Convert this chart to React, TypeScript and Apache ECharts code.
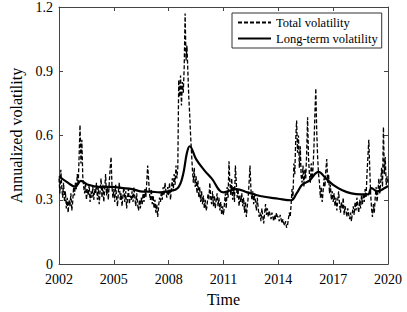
import React, { useEffect, useRef } from "react";
import * as echarts from "echarts";

const BASE_YEAR = 2002;
const END_YEAR = 2020;
const TOTAL_START = 2002;
const TOTAL_STEP = 0.05;

const total2002 = [0.40, 0.33, 0.44, 0.36, 0.31, 0.38, 0.29, 0.34, 0.26, 0.31, 0.24, 0.30, 0.27, 0.33, 0.25, 0.29, 0.36, 0.32, 0.38, 0.35];
const total2003 = [0.42, 0.37, 0.50, 0.65, 0.47, 0.58, 0.41, 0.36, 0.33, 0.38, 0.30, 0.35, 0.32, 0.37, 0.29, 0.34, 0.31, 0.36, 0.30, 0.35];
const total2004 = [0.33, 0.38, 0.30, 0.36, 0.28, 0.34, 0.40, 0.31, 0.37, 0.29, 0.35, 0.42, 0.32, 0.36, 0.30, 0.38, 0.45, 0.50, 0.36, 0.31];
const total2005 = [0.35, 0.29, 0.37, 0.31, 0.27, 0.34, 0.38, 0.30, 0.33, 0.27, 0.32, 0.36, 0.29, 0.34, 0.26, 0.31, 0.35, 0.28, 0.32, 0.30];
const total2006 = [0.34, 0.29, 0.36, 0.31, 0.27, 0.33, 0.28, 0.25, 0.30, 0.26, 0.31, 0.28, 0.33, 0.29, 0.35, 0.31, 0.38, 0.46, 0.40, 0.33];
const total2007 = [0.30, 0.35, 0.28, 0.32, 0.26, 0.30, 0.24, 0.28, 0.22, 0.27, 0.31, 0.29, 0.34, 0.30, 0.36, 0.32, 0.38, 0.34, 0.31, 0.36];
const total2008 = [0.32, 0.38, 0.30, 0.35, 0.40, 0.34, 0.42, 0.37, 0.46, 0.40, 0.45, 0.86, 0.78, 0.88, 0.74, 0.85, 0.80, 0.92, 1.17, 0.95];
const total2009 = [1.02, 0.90, 0.78, 0.70, 0.60, 0.52, 0.44, 0.38, 0.45, 0.36, 0.41, 0.33, 0.39, 0.31, 0.36, 0.29, 0.34, 0.28, 0.32, 0.26];
const total2010 = [0.30, 0.25, 0.27, 0.33, 0.30, 0.38, 0.31, 0.28, 0.34, 0.27, 0.32, 0.26, 0.30, 0.33, 0.27, 0.31, 0.25, 0.29, 0.23, 0.27];
const total2011 = [0.23, 0.28, 0.33, 0.26, 0.36, 0.31, 0.48, 0.38, 0.32, 0.40, 0.30, 0.36, 0.29, 0.46, 0.38, 0.31, 0.35, 0.27, 0.32, 0.29];
const total2012 = [0.33, 0.27, 0.31, 0.24, 0.29, 0.22, 0.27, 0.31, 0.38, 0.46, 0.35, 0.30, 0.34, 0.28, 0.33, 0.29, 0.25, 0.31, 0.26, 0.22];
const total2013 = [0.24, 0.20, 0.26, 0.22, 0.19, 0.24, 0.28, 0.23, 0.26, 0.22, 0.25, 0.23, 0.21, 0.24, 0.22, 0.20, 0.23, 0.21, 0.24, 0.22];
const total2014 = [0.22, 0.20, 0.23, 0.21, 0.19, 0.21, 0.19, 0.18, 0.20, 0.17, 0.18, 0.21, 0.24, 0.22, 0.28, 0.35, 0.30, 0.47, 0.42, 0.58];
const total2015 = [0.67, 0.52, 0.60, 0.45, 0.55, 0.41, 0.38, 0.46, 0.36, 0.44, 0.40, 0.52, 0.685, 0.50, 0.42, 0.38, 0.47, 0.40, 0.45, 0.55];
const total2016 = [0.70, 0.82, 0.62, 0.50, 0.42, 0.38, 0.31, 0.36, 0.29, 0.34, 0.40, 0.36, 0.44, 0.49, 0.38, 0.42, 0.33, 0.37, 0.30, 0.34];
const total2017 = [0.29, 0.33, 0.27, 0.31, 0.25, 0.30, 0.34, 0.28, 0.24, 0.29, 0.26, 0.31, 0.23, 0.27, 0.25, 0.22, 0.26, 0.23, 0.21, 0.24];
const total2018 = [0.20, 0.24, 0.27, 0.23, 0.29, 0.25, 0.31, 0.27, 0.24, 0.30, 0.26, 0.32, 0.28, 0.33, 0.29, 0.35, 0.31, 0.42, 0.50, 0.58];
const total2019 = [0.45, 0.33, 0.26, 0.22, 0.28, 0.24, 0.31, 0.36, 0.29, 0.34, 0.40, 0.33, 0.38, 0.45, 0.36, 0.64, 0.42, 0.50, 0.37, 0.41];
const total2020 = [0.38];

const totalValues = [
  ...total2002, ...total2003, ...total2004, ...total2005, ...total2006,
  ...total2007, ...total2008, ...total2009, ...total2010, ...total2011,
  ...total2012, ...total2013, ...total2014, ...total2015, ...total2016,
  ...total2017, ...total2018, ...total2019, ...total2020,
];

const longDates = [
  2002.0, 2002.4, 2002.9, 2003.2, 2003.6, 2004.2, 2004.9, 2005.5, 2006.0, 2006.6,
  2007.0, 2007.5, 2008.0, 2008.5, 2008.78, 2009.0, 2009.15, 2009.5, 2009.93, 2010.35,
  2011.0, 2011.7, 2012.3, 2013.0, 2014.0, 2014.7, 2015.0, 2015.3, 2015.7, 2016.2,
  2016.6, 2017.0, 2017.5, 2018.0, 2018.5, 2018.9, 2019.1, 2019.4, 2019.85, 2020.0,
];
const longValues = [
  0.41, 0.385, 0.362, 0.388, 0.37, 0.36, 0.36, 0.355, 0.35, 0.338,
  0.338, 0.335, 0.34, 0.355, 0.415, 0.52, 0.55, 0.49, 0.44, 0.40,
  0.335, 0.35, 0.335, 0.318, 0.305, 0.298, 0.33, 0.37, 0.39, 0.43,
  0.40, 0.37, 0.345, 0.33, 0.325, 0.325, 0.355, 0.34, 0.356, 0.365,
];

const yTicks = [0, 0.3, 0.6, 0.9, 1.2];
const xTickYears = [2002, 2005, 2008, 2011, 2014, 2017, 2020];

const FONT = "'Liberation Serif', 'Times New Roman', serif";
const AXIS_COLOR = "#444";

export default function App() {
  const ref = useRef<HTMLDivElement>(null);

  useEffect(() => {
    if (!ref.current) return;
    const chart = echarts.init(ref.current, undefined, { renderer: "svg" });

    const totalData = totalValues.map((v, i) => [TOTAL_START + i * TOTAL_STEP - BASE_YEAR, v]);
    const longData = longValues.map((v, i) => [longDates[i] - BASE_YEAR, v]);
    const xInterval = xTickYears[1] - xTickYears[0];
    const yInterval = yTicks[1] - yTicks[0];

    const baseX = {
      type: "value" as const,
      min: 0,
      max: END_YEAR - BASE_YEAR,
      interval: xInterval,
      splitLine: { show: false },
      axisLine: { show: true, onZero: false, lineStyle: { color: AXIS_COLOR, width: 1 } },
      axisTick: { show: true, inside: true, length: 4, lineStyle: { color: AXIS_COLOR } },
    };
    const baseY = {
      type: "value" as const,
      min: yTicks[0],
      max: yTicks[yTicks.length - 1],
      interval: yInterval,
      splitLine: { show: false },
      axisLine: { show: true, onZero: false, lineStyle: { color: AXIS_COLOR, width: 1 } },
      axisTick: { show: true, inside: true, length: 4, lineStyle: { color: AXIS_COLOR } },
    };

    chart.setOption({
      animation: false,
      backgroundColor: "#fff",
      grid: { left: 43, right: 19, top: 6, bottom: 40, containLabel: false },
      legend: {
        orient: "vertical",
        left: 232,
        top: 13,
        padding: [3, 4, 3, 5],
        itemGap: 3,
        itemWidth: 33,
        itemHeight: 14,
        borderColor: "#333",
        borderWidth: 1,
        backgroundColor: "#fff",
        itemStyle: { opacity: 0 },
        textStyle: { fontFamily: FONT, fontSize: 12.5, color: "#000" },
        data: ["Total volatility", "Long-term volatility"],
      },
      xAxis: [
        {
          ...baseX,
          position: "bottom",
          name: "Time",
          nameLocation: "middle",
          nameGap: 22,
          nameTextStyle: { fontFamily: FONT, fontSize: 16, color: "#000" },
          axisLabel: {
            fontFamily: FONT,
            fontSize: 14,
            color: "#000",
            margin: 8,
            formatter: (v: number) => String(BASE_YEAR + v),
          },
        },
        { ...baseX, position: "top", axisLabel: { show: false } },
      ],
      yAxis: [
        {
          ...baseY,
          position: "left",
          name: "Annualized volatility",
          nameLocation: "middle",
          nameGap: 35,
          nameTextStyle: { fontFamily: FONT, fontSize: 16, color: "#000" },
          axisLabel: {
            fontFamily: FONT,
            fontSize: 14,
            color: "#000",
            margin: 6,
            formatter: (v: number) => String(+v.toFixed(1)),
          },
        },
        { ...baseY, position: "right", axisLabel: { show: false } },
      ],
      series: [
        {
          name: "Total volatility",
          type: "line",
          xAxisIndex: 0,
          yAxisIndex: 0,
          data: totalData,
          symbol: "none",
          lineStyle: { color: "#000", width: 1.3, type: [4, 2] },
          itemStyle: { color: "#000" },
        },
        {
          name: "Long-term volatility",
          type: "line",
          xAxisIndex: 0,
          yAxisIndex: 0,
          data: longData,
          symbol: "none",
          smooth: 0.4,
          lineStyle: { color: "#000", width: 2.2, type: "solid" },
          itemStyle: { color: "#000" },
        },
      ],
    });

    return () => chart.dispose();
  }, []);

  return (
    <div
      ref={ref}
      style={{ position: "fixed", left: 0, top: 0, width: 407, height: 312, background: "#fff" }}
    />
  );
}
